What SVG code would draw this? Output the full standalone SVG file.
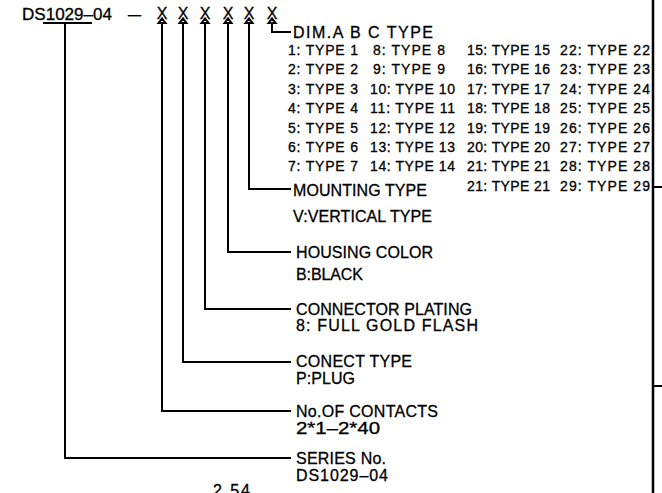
<svg xmlns="http://www.w3.org/2000/svg" width="662" height="493" viewBox="0 0 662 493">
<style>
.t{font-family:"Liberation Sans",Arial,sans-serif;font-size:16px;fill:#000;stroke:#000;stroke-width:0.3}
.s{font-size:14px}
.ln{stroke:#000;stroke-width:2;fill:none}
.bd{stroke:#000;stroke-width:2.5;fill:none}
</style>
<rect width="662" height="493" fill="#fff"/>
<g id="code">
<text class="t" x="22" y="20" textLength="90" lengthAdjust="spacingAndGlyphs">DS1029–04</text>
<text class="t" x="128" y="20" textLength="13" lengthAdjust="spacingAndGlyphs">–</text>
<text class="t" x="162" y="19" text-anchor="middle">X</text>
<text class="t" x="183" y="19" text-anchor="middle">X</text>
<text class="t" x="205" y="19" text-anchor="middle">X</text>
<text class="t" x="228" y="19" text-anchor="middle">X</text>
<text class="t" x="249" y="19" text-anchor="middle">X</text>
<text class="t" x="272" y="19" text-anchor="middle">X</text>
<path class="ln" d="M43 23H92"/>
<path class="ln" d="M158.5 23L162 18.5L165.5 23ZM179.5 23L183 18.5L186.5 23ZM201.5 23L205 18.5L208.5 23ZM224.5 23L228 18.5L231.5 23ZM245.5 23L249 18.5L252.5 23ZM268.5 23L272 18.5L275.5 23Z" stroke-width="1.5"/>
</g>
<g id="connectors">
<path class="ln" d="M272 23V32H291"/>
<path class="ln" d="M249 23V189H291"/>
<path class="ln" d="M228 23V252H291"/>
<path class="ln" d="M205 23V309H291"/>
<path class="ln" d="M183 23V362H291"/>
<path class="ln" d="M162 23V411H291"/>
<path class="ln" d="M65 23V458H291"/>
</g>
<g id="dim-type">
<text class="t" x="293" y="38" textLength="140" lengthAdjust="spacing">DIM.A  B  C  TYPE</text>
<g class="t s">
<text x="288" y="55" textLength="70" lengthAdjust="spacing">1: TYPE 1</text>
<text x="373" y="55" textLength="72" lengthAdjust="spacing">8: TYPE 8</text>
<text x="467" y="55" textLength="83" lengthAdjust="spacing">15: TYPE 15</text>
<text x="560" y="55" textLength="90" lengthAdjust="spacing">22: TYPE 22</text>
<text x="288" y="74.4" textLength="70" lengthAdjust="spacing">2: TYPE 2</text>
<text x="373" y="74.4" textLength="72" lengthAdjust="spacing">9: TYPE 9</text>
<text x="467" y="74.4" textLength="83" lengthAdjust="spacing">16: TYPE 16</text>
<text x="560" y="74.4" textLength="90" lengthAdjust="spacing">23: TYPE 23</text>
<text x="288" y="93.8" textLength="70" lengthAdjust="spacing">3: TYPE 3</text>
<text x="370" y="93.8" textLength="85" lengthAdjust="spacing">10: TYPE 10</text>
<text x="467" y="93.8" textLength="83" lengthAdjust="spacing">17: TYPE 17</text>
<text x="560" y="93.8" textLength="90" lengthAdjust="spacing">24: TYPE 24</text>
<text x="288" y="113.2" textLength="70" lengthAdjust="spacing">4: TYPE 4</text>
<text x="370" y="113.2" textLength="85" lengthAdjust="spacing">11: TYPE 11</text>
<text x="467" y="113.2" textLength="83" lengthAdjust="spacing">18: TYPE 18</text>
<text x="560" y="113.2" textLength="90" lengthAdjust="spacing">25: TYPE 25</text>
<text x="288" y="132.6" textLength="70" lengthAdjust="spacing">5: TYPE 5</text>
<text x="370" y="132.6" textLength="85" lengthAdjust="spacing">12: TYPE 12</text>
<text x="467" y="132.6" textLength="83" lengthAdjust="spacing">19: TYPE 19</text>
<text x="560" y="132.6" textLength="90" lengthAdjust="spacing">26: TYPE 26</text>
<text x="288" y="152" textLength="70" lengthAdjust="spacing">6: TYPE 6</text>
<text x="370" y="152" textLength="85" lengthAdjust="spacing">13: TYPE 13</text>
<text x="467" y="152" textLength="83" lengthAdjust="spacing">20: TYPE 20</text>
<text x="560" y="152" textLength="90" lengthAdjust="spacing">27: TYPE 27</text>
<text x="288" y="171.4" textLength="70" lengthAdjust="spacing">7: TYPE 7</text>
<text x="370" y="171.4" textLength="85" lengthAdjust="spacing">14: TYPE 14</text>
<text x="467" y="171.4" textLength="83" lengthAdjust="spacing">21: TYPE 21</text>
<text x="560" y="171.4" textLength="90" lengthAdjust="spacing">28: TYPE 28</text>
<text x="467" y="190.8" textLength="83" lengthAdjust="spacing">21: TYPE 21</text>
<text x="560" y="190.8" textLength="90" lengthAdjust="spacing">29: TYPE 29</text>
</g>
</g>
<g id="mounting">
<text class="t" x="293" y="196" textLength="134" lengthAdjust="spacing">MOUNTING  TYPE</text>
<text class="t" x="293" y="222" textLength="139" lengthAdjust="spacing">V:VERTICAL  TYPE</text>
</g>
<g id="housing">
<text class="t" x="296" y="258" textLength="137" lengthAdjust="spacing">HOUSING  COLOR</text>
<text class="t" x="296" y="280" textLength="67" lengthAdjust="spacing">B:BLACK</text>
</g>
<g id="plating">
<text class="t" x="296" y="315" textLength="176" lengthAdjust="spacing">CONNECTOR  PLATING</text>
<text class="t" x="296" y="331" textLength="182" lengthAdjust="spacing">8:  FULL  GOLD  FLASH</text>
</g>
<g id="conect">
<text class="t" x="296" y="367" textLength="116" lengthAdjust="spacing">CONECT  TYPE</text>
<text class="t" x="296" y="384" textLength="59" lengthAdjust="spacing">P:PLUG</text>
</g>
<g id="contacts">
<text class="t" x="296" y="417" textLength="142" lengthAdjust="spacing">No.OF  CONTACTS</text>
<text class="t" x="296" y="434" textLength="84" lengthAdjust="spacingAndGlyphs">2*1–2*40</text>
</g>
<g id="series">
<text class="t" x="296" y="464" textLength="90" lengthAdjust="spacing">SERIES  No.</text>
<text class="t" x="296" y="481" textLength="92" lengthAdjust="spacing">DS1029–04</text>
</g>
<g id="dimension">
<text class="t" x="213" y="496" textLength="37" lengthAdjust="spacing">2.54</text>
</g>
<g id="frame">
<path class="bd" d="M653 0V493"/>
<path class="ln" d="M653 187H662M653 386H662"/>
</g>
</svg>
